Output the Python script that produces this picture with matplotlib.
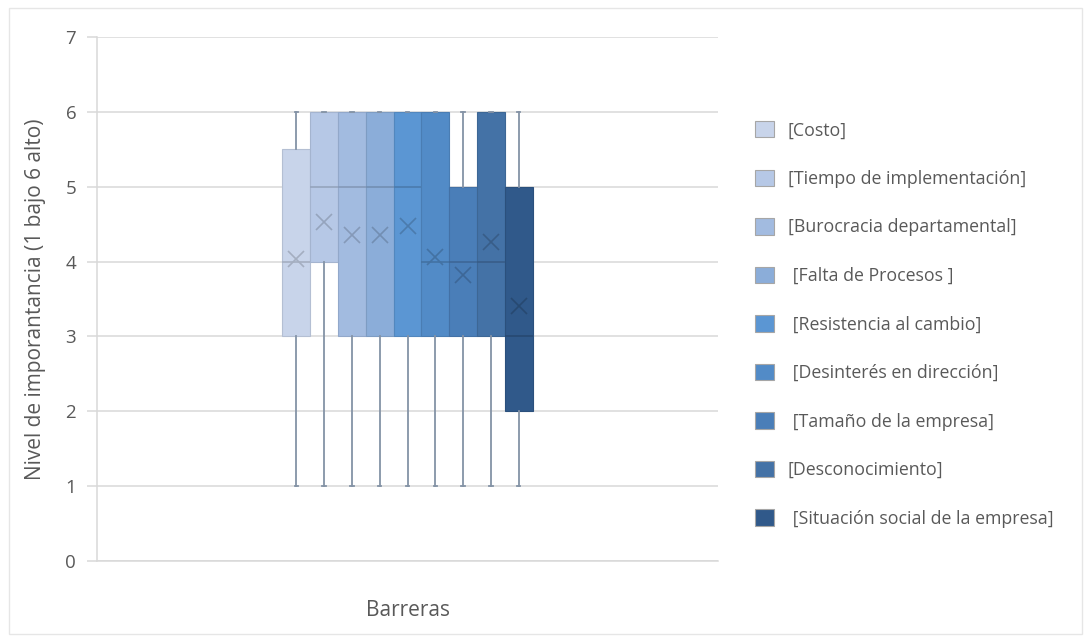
import matplotlib
matplotlib.use("Agg")
import matplotlib.pyplot as plt
from matplotlib.patches import Patch, Rectangle
from matplotlib.colors import to_rgb

plt.rcParams['font.family'] = ['Open Sans', 'DejaVu Sans']

# Barriers and their five-number summaries (scale 1 = low, 6 = high)
barreras = ["[Costo]", "[Tiempo de implementación]", "[Burocracia departamental]",
            " [Falta de Procesos ]", " [Resistencia al cambio]", " [Desinterés en dirección]",
            " [Tamaño de la empresa]", "[Desconocimiento]", " [Situación social de la empresa]"]
minimos = [1, 1, 1, 1, 1, 1, 1, 1, 1]
q1 = [3, 4, 3, 3, 3, 3, 3, 3, 2]
medianas = [4, 5, 5, 5, 5, 4, 4, 4, 3]
q3 = [5.5, 6, 6, 6, 6, 6, 5, 6, 5]
maximos = [6, 6, 6, 6, 6, 6, 6, 6, 6]
medias = [4.03, 4.53, 4.36, 4.35, 4.48, 4.06, 3.82, 4.26, 3.40]

colores = ["#c8d4ea", "#b6c8e6", "#a2bbe0", "#8badd9", "#5b96d3",
           "#528bc7", "#4a7eb8", "#4472a6", "#30598a"]

yticks = [0, 1, 2, 3, 4, 5, 6, 7]
texto_gris = "#595959"
grid_gris = "#d9d9d9"


def sombra(c, f):
    r, g, b = to_rgb(c)
    return (r * f, g * f, b * f)


fig = plt.figure(figsize=(10.87, 6.37), dpi=100)
ax = fig.add_axes([97 / 1087, 1 - 561 / 637, (718 - 97) / 1087, (561 - 37) / 637])

stats = []
for i in range(len(barreras)):
    stats.append(dict(med=medianas[i], q1=q1[i], q3=q3[i], whislo=minimos[i],
                      whishi=maximos[i], mean=medias[i], fliers=[], label=barreras[i]))

posiciones = list(range(len(barreras)))
bp = ax.bxp(stats, positions=posiciones, widths=1.0, patch_artist=True,
            showmeans=True, meanline=False, showfliers=False, capwidths=0.12,
            whiskerprops=dict(color="#8493a6", linewidth=1.3),
            capprops=dict(color="#8493a6", linewidth=1.3),
            zorder=3)

for i, caja in enumerate(bp['boxes']):
    caja.set_facecolor(colores[i])
    caja.set_edgecolor(sombra(colores[i], 0.9))
    caja.set_linewidth(0.8)
    caja.set_zorder(3)
for i, med in enumerate(bp['medians']):
    med.set_color(sombra(colores[i], 0.82))
    med.set_linewidth(1.2)
    med.set_zorder(4)
for i, m in enumerate(bp['means']):
    m.set_marker('x')
    m.set_markersize(11)
    m.set_markeredgewidth(1.2)
    m.set_markeredgecolor(sombra(colores[i], 0.82))
    m.set_zorder(5)

centro = (len(barreras) - 1) / 2
ax.set_xlim(centro - 11.17, centro + 11.17)
ax.set_ylim(0, 7)
ax.set_yticks(yticks)
ax.set_yticklabels([str(v) for v in yticks])
ax.set_xticks([])

ax.yaxis.grid(True, color=grid_gris, linewidth=1.1, zorder=0)
ax.set_axisbelow(True)
for s in ['top', 'right']:
    ax.spines[s].set_visible(False)
ax.spines['left'].set_color(grid_gris)
ax.spines['bottom'].set_color(grid_gris)
ax.spines['left'].set_linewidth(1.1)
ax.spines['bottom'].set_linewidth(1.1)
ax.tick_params(axis='y', length=7, color=grid_gris, width=1.1, labelsize=13.5,
               labelcolor=texto_gris, pad=8)

ax.set_ylabel("Nivel de imporantancia (1 bajo 6 alto)", fontsize=15,
              color=texto_gris, labelpad=14)
fig.text(408 / 1087, 1 - 611 / 637, "Barreras", fontsize=15, color=texto_gris,
         ha='center', va='center')

handles = [Patch(facecolor=c, edgecolor="#a6a6a6", linewidth=0.8) for c in colores]
leg = fig.legend(handles, barreras, loc='upper left',
                 bbox_to_anchor=(739 / 1087, 1 - 105 / 637), frameon=False,
                 fontsize=12.8, labelcolor=texto_gris, handlelength=1.05,
                 handleheight=1.05, handletextpad=0.8, labelspacing=1.70)

# thin frame around the whole chart area
fig.patches.append(Rectangle((9 / 1087, 1 - 634 / 637), (1082 - 9) / 1087,
                             (634 - 8) / 637, transform=fig.transFigure,
                             fill=False, edgecolor="#e6e6e6", linewidth=1.0))

fig.savefig("out.png", dpi=100)
